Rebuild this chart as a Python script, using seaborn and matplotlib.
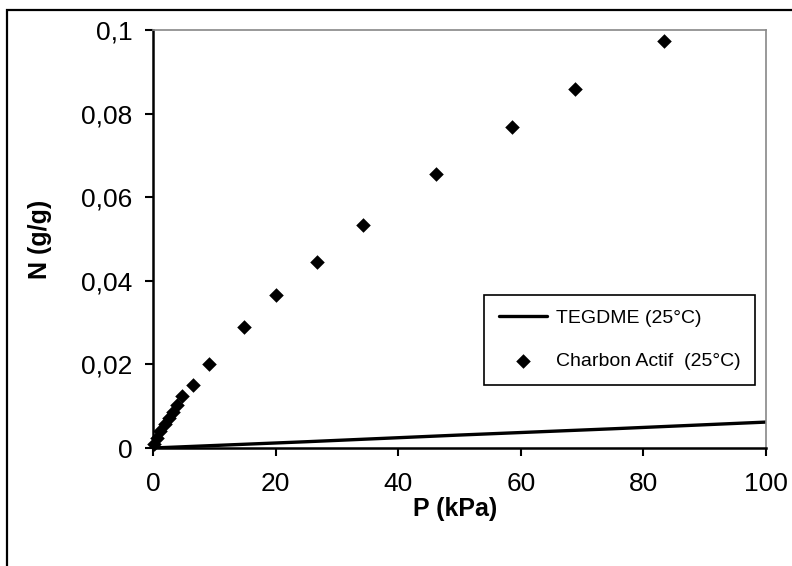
import matplotlib
matplotlib.use("Agg")
import matplotlib.pyplot as plt
from matplotlib.patches import Rectangle
from matplotlib.ticker import FuncFormatter
import seaborn as sns
import pandas as pd

# ---------------- data ----------------
tegdme_p = [0, 25, 50, 75, 100]
tegdme_n = [0, 0.0015, 0.0031, 0.0046, 0.0062]

charbon_p = [0.2, 0.7, 1.2, 1.9, 2.6, 3.3, 3.9, 4.8, 6.5, 9.2,
             14.8, 20.0, 26.7, 34.3, 46.1, 58.6, 68.9, 83.4]
charbon_n = [0.0010, 0.0025, 0.0041, 0.0057, 0.0072, 0.0087, 0.0102, 0.0125, 0.0151, 0.0202,
             0.0289, 0.0365, 0.0446, 0.0534, 0.0656, 0.0769, 0.0860, 0.0973]

x_ticks = [0, 20, 40, 60, 80, 100]
y_ticks = [0, 0.02, 0.04, 0.06, 0.08, 0.1]

df_line = pd.DataFrame({"P": tegdme_p, "N": tegdme_n})
df_pts = pd.DataFrame({"P": charbon_p, "N": charbon_n})

sns.set_style("white")
plt.rcParams["font.family"] = ["Liberation Sans", "DejaVu Sans"]
plt.rcParams["text.color"] = "black"
plt.rcParams["axes.labelcolor"] = "black"

fig = plt.figure(figsize=(7.92, 5.66), dpi=100)
ax = fig.add_axes([153 / 792, 118 / 566, 613 / 792, 418 / 566])

# outer frame (cut at right and bottom like the source image)
fig.patches.append(Rectangle((7 / 792, -0.05), 1.2, (566 - 10) / 566 + 0.05,
                             transform=fig.transFigure, fill=False,
                             edgecolor="black", linewidth=1.6))

sns.lineplot(data=df_line, x="P", y="N", ax=ax, color="black", linewidth=2.4,
             label="TEGDME (25°C)")
sns.scatterplot(data=df_pts, x="P", y="N", ax=ax, marker="D", s=55,
                color="black", edgecolor="black", linewidth=0,
                label="Charbon Actif  (25°C)", clip_on=False, zorder=5)

ax.set_xlim(0, 100)
ax.set_ylim(0, 0.1)
ax.set_xticks(x_ticks)
ax.set_yticks(y_ticks)
ax.yaxis.set_major_formatter(FuncFormatter(lambda v, _: ("%g" % v).replace(".", ",")))

# spines
for side in ["left", "bottom"]:
    ax.spines[side].set_color("black")
    ax.spines[side].set_linewidth(1.8)
for side in ["top", "right"]:
    ax.spines[side].set_color("#888888")
    ax.spines[side].set_linewidth(1.2)

ax.tick_params(axis="both", direction="out", length=6, width=1.5,
               colors="black", labelsize=19)
ax.tick_params(axis="y", left=True, pad=9)
ax.tick_params(axis="x", bottom=True, pad=11)

ax.set_xlabel("P (kPa)", fontsize=18, fontweight="bold", color="black")
ax.set_ylabel("N (g/g)", fontsize=18, fontweight="bold", color="black")
ax.xaxis.set_label_coords(0.493, -0.145)
ax.yaxis.set_label_coords(-0.184, 0.5)
ax.xaxis.label.set_va("center")
ax.yaxis.label.set_va("center")

leg = ax.legend(loc="upper left", bbox_to_anchor=(0.54, 0.366),
                borderaxespad=0, frameon=True, fancybox=False, fontsize=14,
                handlelength=2.5, handletextpad=0.45, borderpad=0.75,
                labelspacing=1.3)
leg.get_frame().set_edgecolor("black")
leg.get_frame().set_linewidth(1.2)
leg.get_frame().set_alpha(1)
for t in leg.get_texts():
    t.set_color("black")

plt.savefig("out.png", dpi=100)
plt.close()
